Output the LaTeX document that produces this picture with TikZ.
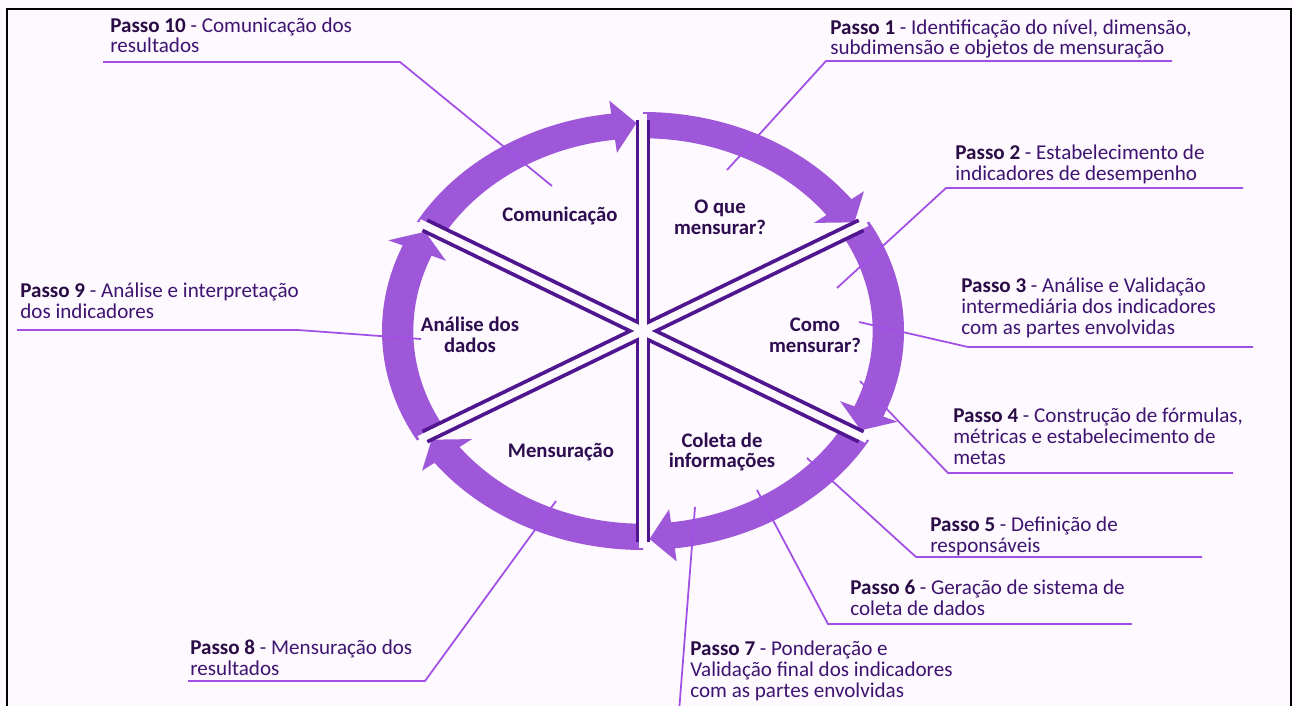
\documentclass[tikz,border=0pt]{standalone}
\usepackage{fontspec}
\setmainfont{Carlito}
\definecolor{bgcol}{HTML}{FDF9FE}
\definecolor{bandcol}{HTML}{9E57D8}
\definecolor{spokecol}{HTML}{50168F}
\definecolor{leadcol}{HTML}{A24FE6}
\definecolor{stepbold}{HTML}{2A0B45}
\definecolor{steptxt}{HTML}{3E1470}
\definecolor{centertxt}{HTML}{2D0C50}
\newcommand{\pb}[1]{\textbf{\color{stepbold}#1}}
\begin{document}
\begin{tikzpicture}[x=0.02cm,y=-0.02cm,
  steptext/.style={anchor=base west, align=left, inner sep=0pt,
    font=\fontsize{12}{11.9}\selectfont, text=steptxt},
  wheeltext/.style={align=center, inner sep=0pt,
    font=\bfseries\fontsize{11.8}{11.9}\selectfont, text=centertxt},
  leader/.style={draw=leadcol, line width=1pt},
  band/.style={fill=bandcol},
  spokedark/.style={draw=spokecol, line width=8.5pt},
  spokegap/.style={draw=bgcol, line width=4.2pt}]
\useasboundingbox (0,0) rectangle (1294,706);
\fill[bgcol] (0,0) rectangle (1294,706);
\draw[black, line width=1.2pt] (7,740) -- (7,9) -- (1291,9) -- (1291,740);

% wheel
\begin{scope}[shift={(643,331)}, xscale=261, yscale=-219]
  \coordinate (c) at (0,0);
  \foreach \a/\b in {90/30,30/-30,-30/-90,-90/-150,210/150,150/90}{
    \pgfmathsetmacro\h{\b+7}
    \pgfmathsetmacro\t{\b+1.5}
    \fill[band] (\a:1) arc[start angle=\a,end angle=\h,radius=1]
      -- (\h:1.06) -- (\t:0.95) -- (\h:0.82) -- (\h:0.88)
      arc[start angle=\h,end angle=\a,radius=0.88] -- cycle;
  }
  \foreach \s in {90,30,-30,-90,-150,150}{
    \draw[spokedark] (c) -- (\s:0.965);
  }
  \foreach \s in {90,30,-30,-90,-150,150}{
    \draw[spokegap] (c) -- (\s:0.99);
  }
\end{scope}

% wheel labels
\node[wheeltext] (com) at (560,216) {Comunicação};
\node[wheeltext] (oque) at (720,217) {O que\\mensurar?};
\node[wheeltext] (como) at (815,335) {Como\\mensurar?};
\node[wheeltext] (anal) at (470,335) {Análise dos\\dados};
\node[wheeltext] (mens) at (561,452) {Mensuração};
\node[wheeltext] (cole) at (722,452) {Coleta de\\informações};

% step labels (anchored at the baseline of the last line)
\node[steptext] (p10) at (110,53) {\pb{Passo 10} - Comunicação dos\\resultados};
\node[steptext] (p1) at (830,55) {\pb{Passo 1} - Identificação do nível, dimensão,\\subdimensão e objetos de mensuração};
\node[steptext] (p2) at (955,180) {\pb{Passo 2} - Estabelecimento de\\indicadores de desempenho};
\node[steptext] (p3) at (961,334) {\pb{Passo 3} - Análise e Validação\\intermediária dos indicadores\\com as partes envolvidas};
\node[steptext] (p4) at (953,464) {\pb{Passo 4} - Construção de fórmulas,\\métricas e estabelecimento de\\metas};
\node[steptext] (p5) at (930,552) {\pb{Passo 5} - Definição de\\responsáveis};
\node[steptext] (p6) at (850,615) {\pb{Passo 6} - Geração de sistema de\\coleta de dados};
\node[steptext] (p7) at (690,697) {\pb{Passo 7} - Ponderação e\\Validação final dos indicadores\\com as partes envolvidas};
\node[steptext] (p8) at (190,675) {\pb{Passo 8} - Mensuração dos\\resultados};
\node[steptext] (p9) at (20,318) {\pb{Passo 9} - Análise e interpretação\\dos indicadores};

% leader coordinates
\coordinate (l10a) at (103,62);  \coordinate (l10b) at (400,62);  \coordinate (l10c) at (552,186);
\coordinate (l1a) at (1172,61);  \coordinate (l1b) at (826,61);   \coordinate (l1c) at (727,170);
\coordinate (l2a) at (1243,188); \coordinate (l2b) at (946,188);  \coordinate (l2c) at (837,288);
\coordinate (l3a) at (1253,347); \coordinate (l3b) at (968,347);  \coordinate (l3c) at (859,322);
\coordinate (l4a) at (1233,473); \coordinate (l4b) at (948,473);  \coordinate (l4c) at (860,381);
\coordinate (l5a) at (1202,557); \coordinate (l5b) at (916,557);  \coordinate (l5c) at (807,458);
\coordinate (l6a) at (1132,624); \coordinate (l6b) at (828,624);  \coordinate (l6c) at (757,490);
\coordinate (l7b) at (679,712);  \coordinate (l7c) at (695,507);
\coordinate (l8a) at (188,681);  \coordinate (l8b) at (425,681);  \coordinate (l8c) at (556,501);
\coordinate (l9a) at (17,330);   \coordinate (l9b) at (298,330);  \coordinate (l9c) at (421,339);

\draw[leader] (l10a) -- (l10b) -- (l10c);
\draw[leader] (l1a) -- (l1b) -- (l1c);
\draw[leader] (l2a) -- (l2b) -- (l2c);
\draw[leader] (l3a) -- (l3b) -- (l3c);
\draw[leader] (l4a) -- (l4b) -- (l4c);
\draw[leader] (l5a) -- (l5b) -- (l5c);
\draw[leader] (l6a) -- (l6b) -- (l6c);
\draw[leader] (l7b) -- (l7c);
\draw[leader] (l8a) -- (l8b) -- (l8c);
\draw[leader] (l9a) -- (l9b) -- (l9c);
\end{tikzpicture}
\end{document}
